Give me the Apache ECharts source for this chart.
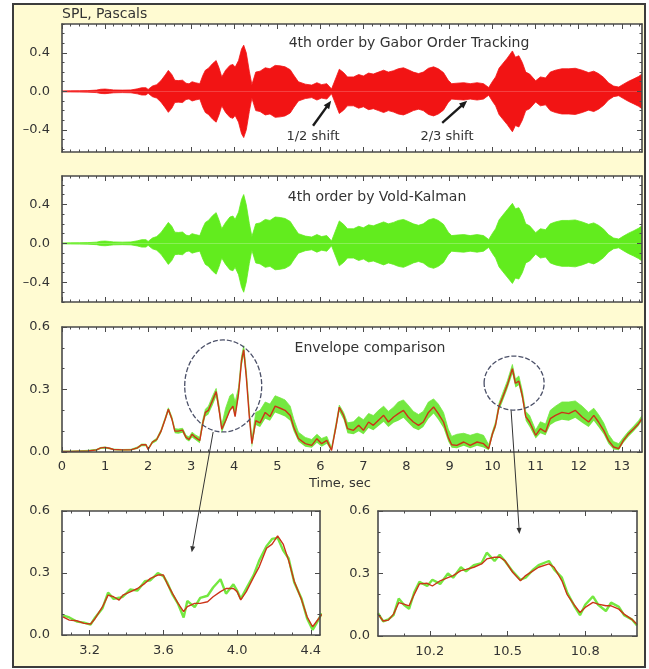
<!DOCTYPE html>
<html><head><meta charset="utf-8">
<script src="https://cdn.jsdelivr.net/npm/echarts@6/dist/echarts.min.js"></script>
<style>
html,body{margin:0;padding:0;background:#fff;width:649px;height:669px;overflow:hidden}
#frame{position:absolute;left:12px;top:3px;width:630px;height:661px;background:#FFFBD2;border:2px solid #3c3c3c}
#main{position:absolute;left:0;top:0;width:649px;height:669px}
</style></head><body>
<div id="frame"></div><div id="main"></div>
<script>
// ---------------- DATA ----------------
// time grid of the envelope / waveform readings, seconds
const envTime = [0.0,0.2,0.4,0.6,0.8,0.9,1.0,1.1,1.2,1.4,1.6,1.75,1.85,1.95,2.0,2.1,2.2,2.3,2.4,2.47,2.55,2.62,2.7,2.8,2.88,2.95,3.02,3.1,3.2,3.27,3.33,3.4,3.5,3.58,3.65,3.71,3.8,3.9,3.97,4.02,4.1,4.17,4.22,4.28,4.35,4.41,4.5,4.6,4.72,4.83,4.95,5.07,5.18,5.3,5.38,5.49,5.65,5.8,5.92,6.03,6.15,6.26,6.37,6.44,6.54,6.63,6.77,6.89,7.0,7.12,7.23,7.35,7.47,7.58,7.7,7.81,7.93,8.04,8.16,8.28,8.39,8.51,8.63,8.74,8.86,8.97,9.05,9.17,9.33,9.48,9.64,9.79,9.91,10.0,10.07,10.15,10.23,10.34,10.46,10.53,10.61,10.69,10.77,10.86,11.0,11.11,11.23,11.34,11.46,11.61,11.77,11.92,12.08,12.23,12.35,12.46,12.58,12.69,12.81,12.93,13.04,13.16,13.28,13.39,13.47];
// Gabor envelope (red curve, panel 3)
const envRed = [.003,.003,.004,.005,.010,.020,.022,.018,.012,.010,.010,.020,.035,.035,.012,.048,.060,.100,.160,.205,.160,.100,.100,.105,.070,.060,.085,.070,.055,.140,.190,.200,.250,.290,.200,.110,.150,.200,.220,.170,.280,.440,.490,.360,.170,.040,.150,.140,.190,.170,.220,.210,.200,.175,.120,.065,.040,.032,.064,.040,.056,.008,.130,.215,.175,.112,.104,.128,.104,.144,.128,.152,.176,.144,.168,.184,.200,.168,.144,.128,.144,.190,.216,.184,.144,.070,.035,.032,.048,.032,.048,.040,.016,.090,.130,.220,.260,.320,.400,.330,.340,.270,.170,.144,.080,.112,.096,.160,.176,.190,.184,.200,.168,.144,.176,.144,.104,.056,.024,.016,.056,.088,.112,.136,.160];
// Vold-Kalman envelope (green noisy band, panel 3): lower and upper edges
const envGreenLo = [.001,.001,.002,.002,.006,.014,.016,.013,.008,.006,.007,.015,.028,.028,.008,.040,.052,.090,.150,.192,.150,.090,.088,.092,.060,.050,.070,.058,.042,.120,.170,.180,.225,.265,.180,.090,.140,.200,.210,.170,.260,.410,.460,.340,.150,.020,.130,.120,.160,.150,.190,.180,.170,.150,.100,.050,.025,.020,.045,.025,.040,.005,.110,.195,.155,.090,.085,.100,.085,.115,.105,.125,.145,.120,.140,.150,.165,.140,.115,.105,.120,.160,.185,.155,.115,.050,.020,.018,.030,.018,.030,.022,.008,.075,.115,.200,.240,.300,.375,.310,.320,.250,.150,.120,.065,.090,.080,.130,.145,.155,.150,.165,.140,.120,.150,.120,.085,.040,.012,.008,.045,.075,.100,.125,.150];
const envGreenHi = [.005,.005,.006,.008,.013,.022,.024,.020,.014,.012,.013,.024,.038,.038,.018,.052,.066,.108,.168,.212,.170,.112,.110,.114,.080,.072,.095,.082,.070,.155,.205,.220,.270,.305,.220,.130,.210,.270,.280,.240,.310,.460,.510,.390,.200,.060,.190,.200,.240,.230,.270,.260,.250,.220,.160,.095,.070,.060,.085,.065,.075,.020,.145,.225,.190,.140,.145,.170,.155,.185,.175,.200,.220,.195,.215,.240,.250,.225,.195,.180,.195,.240,.255,.230,.190,.110,.075,.085,.090,.080,.090,.080,.035,.100,.145,.235,.280,.340,.420,.350,.365,.295,.195,.175,.105,.145,.135,.200,.220,.240,.240,.245,.220,.190,.210,.180,.140,.085,.050,.040,.070,.100,.125,.150,.175];
// peak amplitude of the 4th order waveforms (panels 1 and 2), Pa
const gaborAmp = [.005,.006,.007,.008,.013,.022,.024,.020,.015,.013,.015,.026,.038,.038,.020,.055,.070,.112,.172,.218,.175,.115,.112,.116,.085,.078,.100,.090,.080,.165,.220,.240,.290,.320,.240,.150,.220,.270,.280,.250,.320,.440,.480,.400,.210,.070,.200,.210,.245,.235,.270,.265,.255,.225,.170,.100,.075,.065,.090,.070,.080,.025,.150,.230,.195,.150,.150,.175,.160,.190,.180,.200,.220,.200,.215,.235,.245,.225,.200,.185,.200,.240,.255,.235,.195,.115,.080,.085,.090,.080,.090,.080,.040,.105,.150,.240,.285,.345,.420,.355,.370,.300,.200,.180,.110,.150,.140,.200,.220,.235,.235,.240,.220,.195,.210,.185,.145,.090,.055,.045,.075,.105,.130,.155,.180];
const vkAmp = [.005,.006,.007,.008,.013,.022,.024,.020,.015,.013,.015,.026,.038,.038,.020,.055,.070,.112,.172,.215,.175,.115,.112,.116,.085,.078,.100,.090,.080,.160,.215,.235,.285,.315,.235,.150,.215,.270,.280,.245,.320,.450,.500,.395,.205,.070,.200,.210,.245,.235,.270,.265,.255,.225,.170,.100,.075,.065,.090,.070,.080,.025,.150,.230,.195,.150,.150,.175,.160,.190,.180,.200,.220,.200,.215,.235,.245,.225,.200,.185,.200,.240,.255,.235,.195,.115,.080,.085,.090,.080,.090,.080,.040,.105,.150,.240,.285,.345,.410,.355,.365,.300,.200,.180,.110,.150,.140,.200,.220,.235,.235,.240,.220,.195,.210,.185,.145,.090,.055,.045,.075,.105,.130,.155,.180];

// zoom A (3.05 - 4.45 s)
const zoomATime  = [3.055,3.09,3.13,3.17,3.205,3.23,3.27,3.30,3.33,3.36,3.38,3.42,3.46,3.50,3.53,3.57,3.60,3.62,3.65,3.68,3.71,3.73,3.77,3.80,3.84,3.87,3.91,3.94,3.98,4.00,4.02,4.05,4.09,4.12,4.16,4.19,4.22,4.25,4.28,4.31,4.35,4.38,4.41,4.43,4.46];
const zoomARed   = [.088,.072,.069,.056,.053,.080,.137,.193,.185,.169,.193,.209,.225,.250,.274,.290,.290,.250,.200,.153,.113,.137,.153,.153,.161,.185,.210,.225,.225,.210,.170,.210,.280,.330,.420,.440,.480,.440,.360,.260,.170,.088,.040,.064,.100];
const zoomAGreen = [.095,.085,.065,.060,.050,.085,.130,.205,.175,.180,.185,.220,.215,.260,.265,.300,.285,.255,.195,.150,.085,.165,.135,.180,.190,.230,.270,.200,.245,.215,.175,.225,.290,.360,.430,.465,.470,.410,.370,.255,.175,.080,.025,.055,.105];
// zoom B (10.0 - 11.0 s)
const zoomBTime  = [10.0,10.02,10.04,10.06,10.08,10.10,10.12,10.14,10.16,10.19,10.21,10.24,10.27,10.29,10.32,10.34,10.37,10.40,10.42,10.45,10.47,10.49,10.52,10.55,10.57,10.60,10.62,10.66,10.68,10.71,10.73,10.76,10.78,10.80,10.83,10.85,10.88,10.90,10.93,10.95,10.98,11.0];
const zoomBRed   = [.105,.072,.076,.105,.160,.153,.145,.200,.250,.253,.240,.265,.280,.290,.314,.320,.330,.346,.370,.378,.378,.362,.306,.265,.290,.314,.330,.346,.330,.265,.200,.145,.113,.137,.161,.153,.145,.145,.129,.105,.080,.056];
const zoomBGreen = [.110,.070,.080,.100,.180,.150,.130,.210,.260,.240,.270,.250,.300,.280,.330,.310,.340,.350,.400,.360,.390,.360,.310,.270,.280,.320,.340,.360,.320,.280,.210,.140,.100,.150,.190,.150,.120,.160,.140,.100,.080,.050];

// tick labels
const timeTicks = [0,1,2,3,4,5,6,7,8,9,10,11,12,13];
const ampTicks = [-0.4,0.0,0.4];
const envTicks = [0.0,0.3,0.6];
const zoomATicks = [3.2,3.6,4.0,4.4];
const zoomBTicks = [10.2,10.5,10.8];

// ---------------- STYLE / LAYOUT ----------------
const FONT = 'DejaVu Sans, Verdana, sans-serif';
const TXT = '#333333';
const FRAME = '#4a4a4a';
const RED = '#f21414';
const GREEN_W = '#62ec1e';
const GREEN_B = '#74e840';
const RED_L = '#cc3418';

function steps(a, b, st, exclude) {
  const r = [];
  for (let i = 0; a + i * st <= b + 1e-9; i++) {
    const v = Math.round((a + i * st) * 1000) / 1000;
    if (!exclude.some(e => Math.abs(e - v) < 1e-6)) r.push(v);
  }
  return r;
}
const fmt1 = v => (v < 0 ? '\u2013' : '') + Math.abs(v).toFixed(1);
const fmtInt = v => String(Math.round(v));

const grids = [
  {left:62, top:24, width:580, height:128},
  {left:62, top:176, width:580, height:126},
  {left:62, top:327, width:580, height:125},
  {left:62, top:511, width:258, height:124},
  {left:378, top:511, width:259, height:125}
].map(g => Object.assign({show:true, backgroundColor:'#ffffff', borderWidth:0}, g));

const xAxes = [], yAxes = [];
function axisSet(list, kind, gi, min, max, major, minor, labels, fmt, labelOpts) {
  const sides = kind === 'x' ? ['bottom','top'] : ['left','right'];
  let mainIndex = -1;
  sides.forEach((side, k) => {
    const base = {type:'value', gridIndex:gi, position:side, min:min, max:max, z:10,
      splitLine:{show:false}, minorTick:{show:false}, minorSplitLine:{show:false}};
    if (k === 0) mainIndex = list.length;
    list.push(Object.assign({}, base, {
      axisLine:{show:true, onZero:false, lineStyle:{color:FRAME, width:1.6}},
      axisTick:{show:true, inside:true, length:5, customValues:major, lineStyle:{color:FRAME, width:1}},
      axisLabel:(k === 0 && labels) ? Object.assign({show:true, customValues:labels, formatter:fmt,
        color:TXT, fontFamily:FONT, fontSize:13}, labelOpts || {}) : {show:false}
    }));
    if (minor && minor.length) {
      list.push(Object.assign({}, base, {
        axisLine:{show:false, onZero:false},
        axisTick:{show:true, inside:true, length:2.5, customValues:minor, lineStyle:{color:FRAME, width:1}},
        axisLabel:{show:false}
      }));
    }
  });
  return mainIndex;
}

const tMinor = steps(0, 13.4, 0.2, timeTicks);
const ax = [];
// panel 1
ax.push({x: axisSet(xAxes,'x',0,0,13.47,timeTicks,tMinor,null),
         y: axisSet(yAxes,'y',0,-0.63,0.70,[-0.4,0,0.4],steps(-0.6,0.7,0.1,[-0.4,0,0.4]),ampTicks,fmt1,{margin:12})});
// panel 2
ax.push({x: axisSet(xAxes,'x',1,0,13.47,timeTicks,tMinor,null),
         y: axisSet(yAxes,'y',1,-0.60,0.69,[-0.4,0,0.4],steps(-0.6,0.6,0.1,[-0.4,0,0.4]),ampTicks,fmt1,{margin:12})});
// panel 3
ax.push({x: axisSet(xAxes,'x',2,0,13.47,timeTicks,tMinor,timeTicks,fmtInt,{margin:8}),
         y: axisSet(yAxes,'y',2,0,0.6,envTicks,[0.1,0.2,0.4,0.5],envTicks,fmt1,{margin:12})});
// zoom A
ax.push({x: axisSet(xAxes,'x',3,3.05,4.45,zoomATicks,[3.1,3.3,3.4,3.5,3.7,3.8,3.9,4.1,4.2,4.3],zoomATicks,fmt1,{margin:9}),
         y: axisSet(yAxes,'y',3,0,0.6,envTicks,[0.1,0.2,0.4,0.5],envTicks,fmt1,{margin:12})});
// zoom B
ax.push({x: axisSet(xAxes,'x',4,10.0,11.0,zoomBTicks,[10.1,10.3,10.4,10.6,10.7,10.9],zoomBTicks,fmt1,{margin:9}),
         y: axisSet(yAxes,'y',4,0,0.6,envTicks,[0.1,0.2,0.4,0.5],envTicks,fmt1,{margin:8})});

function pairs(ts, vs, sign) { return ts.map((t, i) => [t, (sign || 1) * vs[i]]); }
function lineS(p, data, color, width, area, extra) {
  const s = {type:'line', xAxisIndex:ax[p].x, yAxisIndex:ax[p].y, data:data, symbol:'none',
    silent:true, animation:false, clip:true, z:2,
    lineStyle:{color:color, width:width}};
  if (area) s.areaStyle = {color:area, opacity:1, origin:'auto'};
  return Object.assign(s, extra || {});
}

const series = [
  lineS(0, pairs(envTime, gaborAmp, 1), RED, 0.8, RED),
  lineS(0, pairs(envTime, gaborAmp, -1), RED, 0.8, RED),
  lineS(1, pairs(envTime, vkAmp, 1), GREEN_W, 0.8, GREEN_W),
  lineS(1, pairs(envTime, vkAmp, -1), GREEN_W, 0.8, GREEN_W),
  // green band: fill up to upper edge, then blank out below lower edge
  lineS(2, pairs(envTime, envGreenHi), GREEN_B, 0.8, GREEN_B),
  lineS(2, pairs(envTime, envGreenLo), '#ffffff', 0, '#ffffff'),
  lineS(2, pairs(envTime, envRed), RED_L, 1.4, null, {z:3}),
  lineS(3, pairs(zoomATime, zoomAGreen), GREEN_B, 2.4, null),
  lineS(3, pairs(zoomATime, zoomARed), RED_L, 1.4, null, {z:3}),
  lineS(4, pairs(zoomBTime, zoomBGreen), GREEN_B, 2.4, null),
  lineS(4, pairs(zoomBTime, zoomBRed), RED_L, 1.4, null, {z:3})
];

const chart = echarts.init(document.getElementById('main'), null, {renderer:'canvas'});
chart.setOption({
  backgroundColor:'transparent',
  animation:false,
  grid:grids, xAxis:xAxes, yAxis:yAxes, series:series
});

// ---------------- ANNOTATIONS ----------------
function px(p, pt) { return chart.convertToPixel({xAxisIndex:ax[p].x, yAxisIndex:ax[p].y}, pt); }
function arrow(p0, p1, width, head, color) {
  const dx = p1[0]-p0[0], dy = p1[1]-p0[1], L = Math.hypot(dx, dy), ux = dx/L, uy = dy/L;
  const b = [p1[0]-ux*head, p1[1]-uy*head], nx = -uy, ny = ux, hw = head*0.42;
  return [
    {type:'line', z:50, shape:{x1:p0[0], y1:p0[1], x2:b[0]+ux*1, y2:b[1]+uy*1}, style:{stroke:color, lineWidth:width}},
    {type:'polygon', z:50, shape:{points:[p1, [b[0]+nx*hw, b[1]+ny*hw], [b[0]-nx*hw, b[1]-ny*hw]]}, style:{fill:color}}
  ];
}
function txt(x, y, s, size, align) {
  return {type:'text', z:50, x:x, y:y, style:{text:s, fill:TXT, font:size + 'px ' + FONT,
    textAlign:align || 'center', textVerticalAlign:'middle'}};
}
const eA = px(2, [3.744, 0.317]), eB = px(2, [10.50, 0.331]);
const g = [
  {type:'ellipse', z:50, shape:{cx:eA[0], cy:eA[1], rx:38.5, ry:46}, style:{fill:'none', stroke:'#4b5068', lineWidth:1.3, lineDash:[5,2]}},
  {type:'ellipse', z:50, shape:{cx:eB[0], cy:eB[1], rx:30, ry:27}, style:{fill:'none', stroke:'#4b5068', lineWidth:1.3, lineDash:[5,2]}},
  ...arrow(px(2, [3.51, 0.096]), px(3, [3.754, 0.40]), 1, 6, '#333'),
  ...arrow(px(2, [10.43, 0.20]), px(4, [10.546, 0.49]), 1, 6, '#333'),
  ...arrow(px(0, [5.83, -0.358]), px(0, [6.25, -0.097]), 2.4, 8, '#1a1a1a'),
  ...arrow(px(0, [8.83, -0.327]), px(0, [9.41, -0.097]), 2.4, 8, '#1a1a1a'),
  txt(62, 14, 'SPL, Pascals', 14, 'left'),
  txt(409, 43, '4th order by Gabor Order Tracking', 14),
  txt(377, 197, '4th order by Vold-Kalman', 14),
  txt(370, 348, 'Envelope comparison', 14),
  txt(340, 484, 'Time, sec', 13),
  txt(313, 137, '1/2 shift', 13),
  txt(447, 137, '2/3 shift', 13)
];
chart.setOption({graphic:g});
</script>
</body></html>
